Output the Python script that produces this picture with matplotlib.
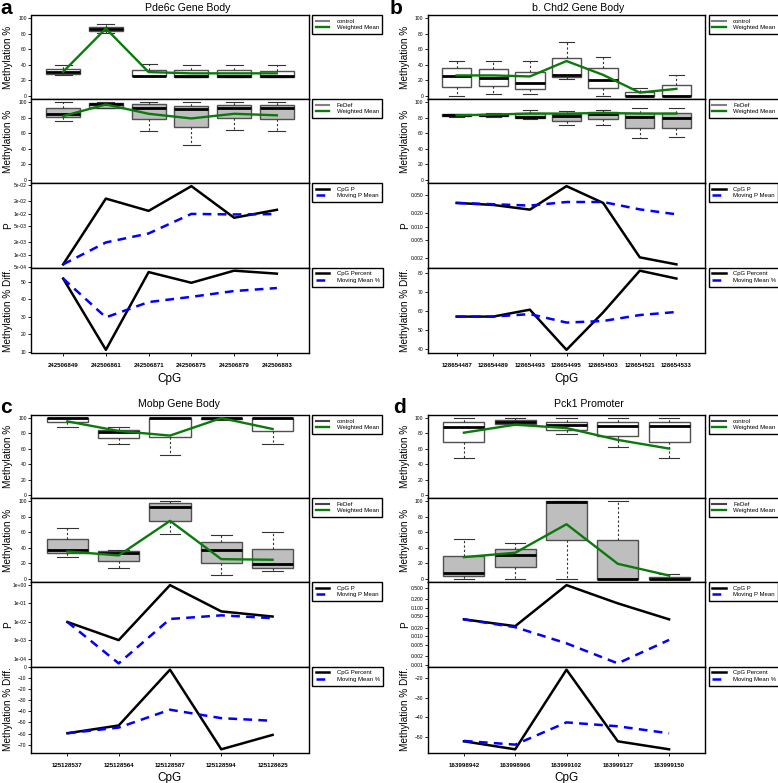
import matplotlib
matplotlib.use('Agg')
import matplotlib.pyplot as plt
from matplotlib.lines import Line2D
from matplotlib.ticker import MultipleLocator, FixedLocator, FixedFormatter, NullLocator
import numpy as np

plt.rcParams['font.family'] = ['Liberation Sans', 'DejaVu Sans']

# ---- a: Pde6c Gene Body ----
a_cpg = ['242506849', '242506861', '242506871', '242506875', '242506879', '242506883']
# box stats: (lower whisker, q1, median, q3, upper whisker)
a_ctrl_box = [(27, 28, 30.6, 35, 39.7), (81.5, 83, 86, 89, 92), (25, 25, 26, 33.6, 41),
              (24, 24, 26, 33.6, 39.7), (24, 24.5, 26, 33.6, 39.7), (23.7, 23.7, 25, 32.3, 39.7)]
a_ctrl_wm = [31, 86.6, 30.6, 29, 29, 29]
a_fe_box = [(76, 80.5, 84.4, 92.6, 100), (92, 93, 97.4, 99, 100), (63, 78, 93, 97, 100),
            (45.5, 68.4, 91, 95, 100), (64.5, 79, 92, 96, 100), (63, 78, 92, 96, 100)]
a_fe_wm = [82, 97, 85, 79, 85, 83]
a_p = [5.9e-4, 0.023, 0.0116, 0.046, 0.0079, 0.0123]
a_p_mean = [5.9e-4, 2.0e-3, 3.3e-3, 9.8e-3, 9.5e-3, 9.7e-3]
a_p_ticks = [5e-4, 1e-3, 2e-3, 5e-3, 1e-2, 2e-2, 5e-2]
a_p_labels = ['5e-04', '1e-03', '2e-03', '5e-03', '1e-02', '2e-02', '5e-02']
a_diff = [51.7, 11.1, 55.4, 49.3, 56.2, 54.5]
a_diff_mean = [51.7, 29.6, 38.3, 41.3, 44.6, 46.3]

# ---- b: Chd2 Gene Body ----
b_cpg = ['128654487', '128654489', '128654493', '128654495', '128654503', '128654521', '128654533']
b_ctrl_box = [(0, 11.6, 25, 35.3, 44.8), (2.6, 13, 22.4, 34.5, 44.8), (2.6, 9.5, 16.8, 31, 44.8),
              (22, 24.6, 27, 49, 69.4), (0, 10.3, 21, 35.3, 50.4), (0, 0, 0.4, 5.6, 10),
              (0, 0, 0, 13.8, 26.7)]
b_ctrl_wm = [26.3, 26.3, 25, 44.8, 27, 4.3, 9]
b_fe_box = [(81.4, 81.8, 83, 84.4, 85), (81.4, 81.8, 83, 85.3, 85.7), (78.8, 79.7, 81.4, 86, 90.5),
            (70.6, 75.8, 82.7, 84.4, 89), (70.6, 78, 84.4, 87, 90.5), (54, 67, 81, 86, 91.8),
            (55, 67, 80, 86, 93)]
b_fe_wm = [83, 84, 85.3, 85.3, 86, 85.3, 85.3]
b_p = [0.0336, 0.0303, 0.0238, 0.0796, 0.0336, 0.00205, 0.00143]
b_p_mean = [0.0336, 0.0314, 0.0293, 0.0352, 0.0352, 0.0241, 0.0187]
b_p_ticks = [0.002, 0.005, 0.01, 0.02, 0.05]
b_p_labels = ['0.002', '0.005', '0.010', '0.020', '0.050']
b_diff = [57.1, 57.1, 60.7, 39.8, 59.3, 81, 76.9]
b_diff_mean = [57.1, 57.1, 58.4, 54, 54.8, 57.9, 59.5]

# ---- c: Mobp Gene Body ----
c_cpg = ['125128537', '125128564', '125128587', '125128594', '125128625']
c_ctrl_box = [(89, 94.8, 100, 100, 100), (66.8, 74, 81.5, 85, 88.4), (51.7, 75.4, 100, 100, 100),
              (98, 99, 100, 100, 100), (66.8, 82.8, 100, 100, 100)]
c_ctrl_wm = [95.7, 83.2, 77.2, 100, 85.8]
c_fe_box = [(28.4, 32.8, 37.5, 51.3, 65.5), (13.4, 22.8, 32.8, 35.3, 37), (57.3, 74.6, 93, 97.4, 100),
            (4.7, 21, 37, 47, 56.9), (10.3, 13.8, 19, 38.4, 60.3)]
c_fe_wm = [35.3, 30.2, 74.6, 25.4, 24.6]
c_p = [9.6e-3, 1e-3, 0.955, 0.036, 0.019]
c_p_mean = [9.6e-3, 5.5e-5, 0.014, 0.022, 0.0155]
c_p_ticks = [1e-4, 1e-3, 1e-2, 1e-1, 1]
c_p_labels = ['1e-04', '1e-03', '1e-02', '1e-01', '1e+00']
c_diff = [-59.7, -52.7, -2.4, -74.2, -61.2]
c_diff_mean = [-59.7, -54.6, -38.5, -46.1, -48.5]

# ---- d: Pck1 Promoter ----
d_cpg = ['163998942', '163998966', '163999102', '163999127', '163999150']
d_ctrl_box = [(48.3, 69, 88.8, 94.8, 100), (90.5, 91.8, 94.8, 97.4, 100), (79.7, 85, 91, 94.8, 100),
              (62.5, 76.7, 90, 94.8, 100), (47.4, 69, 89.7, 94.8, 100)]
d_ctrl_wm = [81, 91.4, 87, 71.6, 60.3]
d_fe_box = [(0, 3.4, 8.2, 29.3, 51.3), (0, 15.1, 30.2, 37.9, 45.7), (0, 50, 99, 100, 100),
            (0, 0, 0, 49.6, 100), (0, 0, 0, 3, 6)]
d_fe_wm = [28, 33.6, 70.3, 19.4, 4.3]
d_p = [0.039, 0.0225, 0.62, 0.142, 0.039]
d_p_mean = [0.039, 0.0207, 0.0056, 0.00111, 0.0074]
d_p_ticks = [0.001, 0.002, 0.005, 0.01, 0.02, 0.05, 0.1, 0.2, 0.5]
d_p_labels = ['0.001', '0.002', '0.005', '0.010', '0.020', '0.050', '0.100', '0.200', '0.500']
d_diff = [-52.4, -56.5, -15.7, -52.4, -56.5]
d_diff_mean = [-52.2, -54.1, -42.7, -44.7, -48.3]

GREEN = '#0a7a0a'
W, H = 778, 783
fig = plt.figure(figsize=(W / 100, H / 100), dpi=100)


def px_axes(x0, y0, x1, y1):
    return fig.add_axes([x0 / W, 1 - y1 / H, (x1 - x0) / W, (y1 - y0) / H])


def style(ax, width_px):
    for s in ax.spines.values():
        s.set_linewidth(1.0)
    ax.tick_params(axis='y', labelsize=3.6, length=2, width=0.6, pad=1.5)
    ax.yaxis.set_label_coords(-18 / width_px, 0.5)


def legend(ax, handles, labels):
    leg = ax.legend(handles, labels, loc='upper left', bbox_to_anchor=(1.013, 1.0),
                    borderaxespad=0, fontsize=4.3, frameon=True, fancybox=False,
                    edgecolor='black', framealpha=1, handlelength=2.3, borderpad=0.6,
                    labelspacing=0.25, handletextpad=1.2)
    leg.get_frame().set_linewidth(1.0)


def pad_range(vals, log=False):
    v = np.log10(vals) if log else np.asarray(vals, float)
    lo, hi = v.min(), v.max()
    d = 0.04 * (hi - lo)
    lo, hi = lo - d, hi + d
    return (10 ** lo, 10 ** hi) if log else (lo, hi)


def boxrow(ax, boxes, wm, fill, name, ctrl_col):
    pos = np.arange(1, len(boxes) + 1)
    stats = [dict(whislo=b[0], q1=b[1], med=b[2], q3=b[3], whishi=b[4]) for b in boxes]
    ax.bxp(stats, positions=pos, widths=0.8, capwidths=0.4, patch_artist=True,
           showfliers=False, manage_ticks=False,
           boxprops=dict(facecolor=fill, edgecolor='#505050', linewidth=1.0),
           medianprops=dict(color='black', linewidth=2.0),
           whiskerprops=dict(color='#333333', linewidth=0.8, linestyle=(0, (2, 2))),
           capprops=dict(color='#333333', linewidth=0.8))
    ax.plot(pos, wm, color=GREEN, lw=1.7, zorder=5)
    ax.set_ylim(-4, 104)
    ax.yaxis.set_major_locator(MultipleLocator(20))
    ax.set_ylabel('Methylation %', fontsize=7.2)
    legend(ax, [Line2D([], [], color=ctrl_col, lw=1.5), Line2D([], [], color=GREEN, lw=1.7)],
           [name, 'Weighted Mean'])


def draw_panel(letter, lpos, title, tpos, x0, x1, rows, cpg, ctrl_box, ctrl_wm, fe_box, fe_wm,
               p, p_mean, p_ticks, p_labels, diff, diff_mean, ctrl_col):
    n = len(cpg)
    pos = np.arange(1, n + 1)
    xlim = (0.5 - 0.04 * n, n + 0.5 + 0.04 * n)
    wpx = x1 - x0
    axes = [px_axes(x0, rows[i], x1, rows[i + 1]) for i in range(4)]
    for ax in axes:
        ax.set_xlim(xlim)
        style(ax, wpx)
    for ax in axes[:3]:
        ax.xaxis.set_major_locator(NullLocator())

    boxrow(axes[0], ctrl_box, ctrl_wm, 'white', 'control', ctrl_col)
    boxrow(axes[1], fe_box, fe_wm, '#bebebe', 'FeDef', ctrl_col)

    ax = axes[2]
    ax.plot(pos, p, color='black', lw=1.8)
    ax.plot(pos, p_mean, color='blue', lw=1.8, dashes=(3.5, 2.5))
    ax.set_yscale('log')
    ax.set_ylim(pad_range(list(p) + list(p_mean), log=True))
    ax.yaxis.set_major_locator(FixedLocator(p_ticks))
    ax.yaxis.set_major_formatter(FixedFormatter(p_labels))
    ax.yaxis.set_minor_locator(NullLocator())
    ax.set_ylabel('P', fontsize=7.2)
    legend(ax, [Line2D([], [], color='black', lw=1.8),
                Line2D([], [], color='blue', lw=1.8, dashes=(3.5, 2.5))],
           ['CpG P', 'Moving P Mean'])

    ax = axes[3]
    ax.plot(pos, diff, color='black', lw=1.8)
    ax.plot(pos, diff_mean, color='blue', lw=1.8, dashes=(3.5, 2.5))
    ax.set_ylim(pad_range(list(diff) + list(diff_mean)))
    ax.yaxis.set_major_locator(MultipleLocator(10))
    ax.set_ylabel('Methylation % Diff.', fontsize=7.2)
    ax.set_xticks(pos)
    ax.set_xticklabels(cpg, fontsize=4.4, fontweight='bold')
    ax.tick_params(axis='x', length=2.5, width=0.6, pad=5)
    ax.set_xlabel('CpG', fontsize=8.5, labelpad=3)
    legend(ax, [Line2D([], [], color='black', lw=1.8),
                Line2D([], [], color='blue', lw=1.8, dashes=(3.5, 2.5))],
           ['CpG Percent', 'Moving Mean %'])

    fig.text(lpos[0] / W, 1 - lpos[1] / H, letter, fontsize=15, fontweight='bold',
             ha='left', va='center')
    fig.text(tpos[0] / W, 1 - tpos[1] / H, title, fontsize=7.6, ha='center', va='center')


top_rows = [15, 99, 183, 267.5, 353]
bot_rows = [415, 498, 582, 666.5, 752.5]

draw_panel('a', (0, 9), 'Pde6c Gene Body', (188, 8), 31.5, 308.5, top_rows, a_cpg,
           a_ctrl_box, a_ctrl_wm, a_fe_box, a_fe_wm, a_p, a_p_mean, a_p_ticks, a_p_labels,
           a_diff, a_diff_mean, 'gray')
draw_panel('b', (390, 9), 'b. Chd2 Gene Body', (578, 8), 428, 705, top_rows, b_cpg,
           b_ctrl_box, b_ctrl_wm, b_fe_box, b_fe_wm, b_p, b_p_mean, b_p_ticks, b_p_labels,
           b_diff, b_diff_mean, 'gray')
draw_panel('c', (0, 408), 'Mobp Gene Body', (179, 404), 31.5, 308.5, bot_rows, c_cpg,
           c_ctrl_box, c_ctrl_wm, c_fe_box, c_fe_wm, c_p, c_p_mean, c_p_ticks, c_p_labels,
           c_diff, c_diff_mean, '#444444')
draw_panel('d', (393, 408), 'Pck1 Promoter', (589, 404), 428, 705, bot_rows, d_cpg,
           d_ctrl_box, d_ctrl_wm, d_fe_box, d_fe_wm, d_p, d_p_mean, d_p_ticks, d_p_labels,
           d_diff, d_diff_mean, '#444444')

fig.savefig('out.png', dpi=100)
